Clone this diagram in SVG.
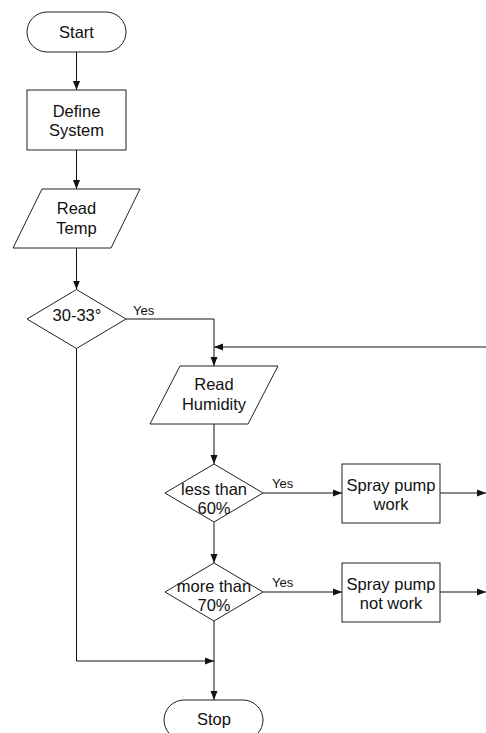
<svg xmlns="http://www.w3.org/2000/svg" width="486" height="733" viewBox="0 0 486 733">
<style>
.s{fill:#fff;stroke:#222;stroke-width:1}
.t{font-family:"Liberation Sans",Arial,sans-serif;font-size:16.5px;fill:#111;text-anchor:middle}
.y{font-family:"Liberation Sans",Arial,sans-serif;font-size:13px;fill:#111}
.c{fill:none;stroke:#111;stroke-width:1}
</style>
<defs>
<marker id="a" markerUnits="userSpaceOnUse" markerWidth="10" markerHeight="8" refX="9" refY="4" orient="auto">
<path d="M0,0.5 L9,4 L0,7.5 Z" fill="#111"/>
</marker>
</defs>
<rect width="486" height="733" fill="#fff"/>
<g id="connectors">
<path class="c" d="M76.5 52 V90" marker-end="url(#a)"/>
<path class="c" d="M76.5 150 V189" marker-end="url(#a)"/>
<path class="c" d="M76.5 248 V289.5" marker-end="url(#a)"/>
<path class="c" d="M126 319 H214 V366" marker-end="url(#a)"/>
<path class="c" d="M486 347 H214" marker-end="url(#a)"/>
<path class="c" d="M214 424 V464" marker-end="url(#a)"/>
<path class="c" d="M263 493 H342" marker-end="url(#a)"/>
<path class="c" d="M440 493 H486" marker-end="url(#a)"/>
<path class="c" d="M214 522 V563" marker-end="url(#a)"/>
<path class="c" d="M263 592 H342" marker-end="url(#a)"/>
<path class="c" d="M440 592 H486" marker-end="url(#a)"/>
<path class="c" d="M214 621 V700" marker-end="url(#a)"/>
<path class="c" d="M76.5 348.5 V661 H214" marker-end="url(#a)"/>
<text class="y" x="133" y="315">Yes</text>
<text class="y" x="272" y="488">Yes</text>
<text class="y" x="272" y="587">Yes</text>
</g>
<g id="start">
<rect class="s" x="27" y="12" width="99" height="40" rx="20"/>
<text class="t" x="76.5" y="37.5">Start</text>
</g>
<g id="define">
<rect class="s" x="27" y="90" width="99" height="60"/>
<text class="t" x="76.5" y="116.5">Define</text>
<text class="t" x="76.5" y="136">System</text>
</g>
<g id="readtemp">
<polygon class="s" points="42,189 140,189 111,248 13,248"/>
<text class="t" x="76.5" y="213.5">Read</text>
<text class="t" x="76.5" y="233.5">Temp</text>
</g>
<g id="temp-decision">
<polygon class="s" points="27,319 76.5,289.5 126,319 76.5,348.5"/>
<text class="t" x="77" y="321">30-33°</text>
</g>
<g id="readhumidity">
<polygon class="s" points="180,366 278,366 248,424 150,424"/>
<text class="t" x="214" y="390">Read</text>
<text class="t" x="214" y="410">Humidity</text>
</g>
<g id="less-decision">
<polygon class="s" points="165,493 214,464 263,493 214,522"/>
<text class="t" x="214" y="495">less than</text>
<text class="t" x="214" y="513.5">60%</text>
</g>
<g id="pump-work">
<rect class="s" x="342" y="464" width="98" height="59"/>
<text class="t" x="391" y="490.5">Spray pump</text>
<text class="t" x="391" y="510">work</text>
</g>
<g id="more-decision">
<polygon class="s" points="165,592 214,563 263,592 214,621"/>
<text class="t" x="214" y="592">more than</text>
<text class="t" x="214" y="610.5">70%</text>
</g>
<g id="pump-notwork">
<rect class="s" x="342" y="563" width="98" height="59"/>
<text class="t" x="391" y="589.5">Spray pump</text>
<text class="t" x="391" y="608.5">not work</text>
</g>
<g id="stop">
<rect class="s" x="164" y="700" width="99" height="40" rx="20"/>
<text class="t" x="214" y="725">Stop</text>
</g>
</svg>
